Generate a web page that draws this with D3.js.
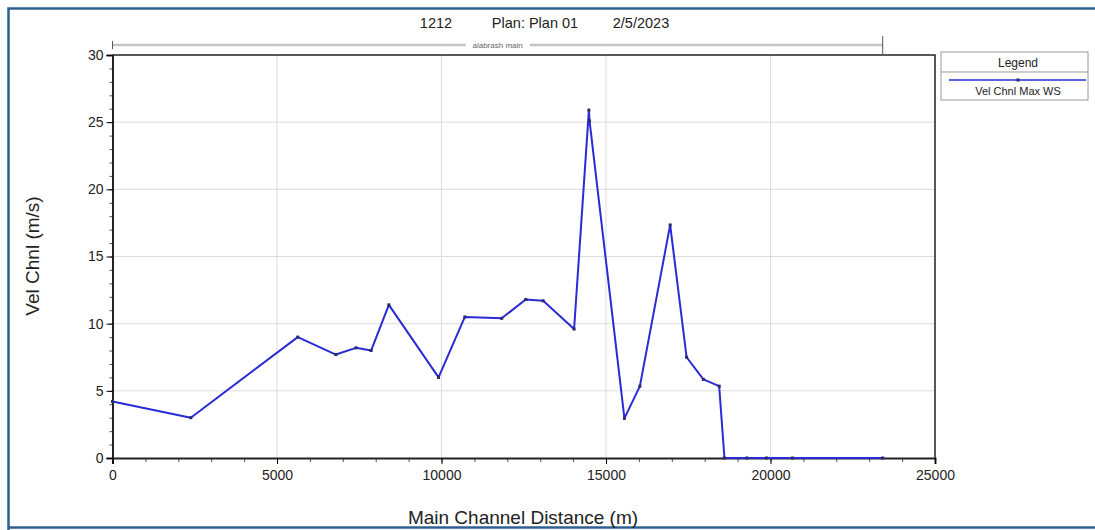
<!DOCTYPE html>
<html>
<head>
<meta charset="utf-8">
<script src="https://cdn.jsdelivr.net/npm/d3@7"></script>
<style>
  body { margin: 0; background: #fff; }
  svg { display: block; font-family: Arial, "Liberation Sans", sans-serif; }
</style>
</head>
<body>
<svg id="chart" width="1095" height="530"></svg>
<script>
// distances (m) and max channel velocity (m/s)
const distance = [0, 2380, 5630, 6790, 7400, 7860, 8400, 9910, 10710, 11830, 12560, 13090, 14030,
  14480, 14500, 15560, 16030, 16950, 17450, 17960, 18440, 18600, 19280, 19880, 20670, 23410]
const velocity = [4.2, 3.0, 9.0, 7.7, 8.2, 8.0, 11.4, 6.0, 10.5, 10.4, 11.8, 11.7, 9.6,
  25.9, 25.1, 2.95, 5.35, 17.35, 7.5, 5.85, 5.35, 0, 0, 0, 0, 0]
const xTicks = [0, 5000, 10000, 15000, 20000, 25000]
const yTicks = [0, 5, 10, 15, 20, 25, 30]
const titleParts = ["1212", "Plan: Plan 01", "2/5/2023"]
const reachName = "alabrash main"
const reachRange = [0, 23410]
const seriesName = "Vel Chnl Max WS"

const dados = distance.map((d, i) => ({ x: d, y: velocity[i] }))

const svg = d3.select("#chart")

// outer frame
svg.append("path")
  .attr("d", "M8.5,530 V8.5 H1100")
  .attr("fill", "none").attr("stroke", "#2f5f8f").attr("stroke-width", 2.5)
svg.append("line")
  .attr("x1", 8).attr("x2", 1095).attr("y1", 527.5).attr("y2", 527.5)
  .attr("stroke", "#2f5f8f").attr("stroke-width", 2.5)

const margin = {top: 55, left: 112.5}
const width = 935 - 112.5
const height = 458 - 55

const chart = svg.append("g")
  .attr("transform", `translate(${margin.left},${margin.top})`)

const x = d3.scaleLinear().domain([0, 25000]).range([0, width])
const y = d3.scaleLinear().domain([0, 30]).range([height, 0])

// grid
chart.append("g")
  .selectAll("line.gx")
  .data(xTicks.slice(1, -1))
  .enter().append("line")
  .attr("x1", d => x(d)).attr("x2", d => x(d))
  .attr("y1", 0).attr("y2", height)
  .attr("stroke", "#dcdcdc").attr("stroke-width", 1)
chart.append("g")
  .selectAll("line.gy")
  .data(yTicks.slice(1, -1))
  .enter().append("line")
  .attr("x1", 0).attr("x2", width)
  .attr("y1", d => y(d)).attr("y2", d => y(d))
  .attr("stroke", "#dcdcdc").attr("stroke-width", 1)

// minor ticks
chart.append("g")
  .attr("transform", `translate(0,${height})`)
  .call(d3.axisBottom(x).ticks(25).tickSize(4).tickFormat(""))
  .call(g => g.select(".domain").remove())
  .selectAll("line").attr("stroke", "#555")
chart.append("g")
  .call(d3.axisLeft(y).ticks(30).tickSize(3).tickFormat(""))
  .call(g => g.select(".domain").remove())
  .selectAll("line").attr("stroke", "#555")

// x axis
chart.append("g")
  .attr("transform", `translate(0,${height})`)
  .call(d3.axisBottom(x).tickValues(xTicks).tickSize(6).tickPadding(6).tickFormat(d3.format("d")))
  .call(g => g.select(".domain").attr("stroke", "#222").attr("stroke-width", 2))
  .call(g => g.selectAll("text").attr("font-size", 14).attr("fill", "#222")
    .attr("font-family", "Arial, 'Liberation Sans', sans-serif"))

// y axis
chart.append("g")
  .call(d3.axisLeft(y).tickValues(yTicks).tickSize(6).tickPadding(3))
  .call(g => g.select(".domain").attr("stroke", "#222").attr("stroke-width", 2))
  .call(g => g.selectAll("text").attr("font-size", 14).attr("fill", "#222")
    .attr("font-family", "Arial, 'Liberation Sans', sans-serif"))

// top and right border of plot
chart.append("path")
  .attr("d", `M0,0 H${width} V${height}`)
  .attr("fill", "none").attr("stroke", "#222").attr("stroke-width", 1.5)

// reach bar above the plot
const reachY = -10
chart.append("line")
  .attr("x1", x(reachRange[0])).attr("x2", x(reachRange[1]))
  .attr("y1", reachY).attr("y2", reachY)
  .attr("stroke", "#c4c4c4").attr("stroke-width", 2.5)
chart.append("line")
  .attr("x1", x(reachRange[0])).attr("x2", x(reachRange[0]))
  .attr("y1", reachY - 4).attr("y2", reachY + 4)
  .attr("stroke", "#555").attr("stroke-width", 1)
chart.append("line")
  .attr("x1", x(reachRange[1])).attr("x2", x(reachRange[1]))
  .attr("y1", reachY - 9).attr("y2", reachY + 9)
  .attr("stroke", "#555").attr("stroke-width", 1)
const midReach = (x(reachRange[0]) + x(reachRange[1])) / 2
chart.append("rect")
  .attr("x", midReach - 32).attr("y", reachY - 5)
  .attr("width", 64).attr("height", 10).attr("fill", "#fff")
chart.append("text")
  .attr("x", midReach).attr("y", reachY + 3)
  .attr("text-anchor", "middle").attr("font-size", 8).attr("fill", "#666")
  .text(reachName)

// series line
const linha = d3.line().x(d => x(d.x)).y(d => y(d.y))
chart.append("path")
  .datum(dados)
  .attr("fill", "none")
  .attr("stroke", "#2a2ad6")
  .attr("stroke-width", 2)
  .attr("stroke-linejoin", "round")
  .attr("d", linha)

chart.selectAll("rect.pt")
  .data(dados)
  .enter().append("rect")
  .attr("class", "pt")
  .attr("x", d => x(d.x) - 1.5).attr("y", d => y(d.y) - 1.5)
  .attr("width", 3).attr("height", 3)
  .attr("fill", "#2a2a6a")

// title, three parts spaced like the original
const titleX = [436, 535, 641]
svg.selectAll("text.title")
  .data(titleParts)
  .enter().append("text")
  .attr("class", "title")
  .attr("x", (d, i) => titleX[i]).attr("y", 28)
  .attr("text-anchor", "middle").attr("font-size", 14.5).attr("fill", "#222")
  .text(d => d)

// axis titles
svg.append("text")
  .attr("transform", "translate(39,256) rotate(-90)")
  .attr("text-anchor", "middle").attr("font-size", 19).attr("fill", "#222")
  .text("Vel Chnl (m/s)")
svg.append("text")
  .attr("x", 523).attr("y", 524)
  .attr("text-anchor", "middle").attr("font-size", 19).attr("fill", "#222")
  .text("Main Channel Distance (m)")

// legend
const lg = svg.append("g").attr("transform", "translate(941,52)")
lg.append("rect")
  .attr("width", 147).attr("height", 48)
  .attr("fill", "#fff").attr("stroke", "#999")
lg.append("line")
  .attr("x1", 0).attr("x2", 147).attr("y1", 20).attr("y2", 20)
  .attr("stroke", "#999")
lg.append("text")
  .attr("x", 77).attr("y", 15)
  .attr("text-anchor", "middle").attr("font-size", 12).attr("fill", "#222")
  .text("Legend")
lg.append("line")
  .attr("x1", 8).attr("x2", 145).attr("y1", 28).attr("y2", 28)
  .attr("stroke", "#2a2ad6").attr("stroke-width", 1.5)
lg.append("rect")
  .attr("x", 75.5).attr("y", 26.5).attr("width", 3).attr("height", 3)
  .attr("fill", "#2a2a6a")
lg.append("text")
  .attr("x", 77).attr("y", 43)
  .attr("text-anchor", "middle").attr("font-size", 11).attr("fill", "#222")
  .text(seriesName)
</script>
</body>
</html>
